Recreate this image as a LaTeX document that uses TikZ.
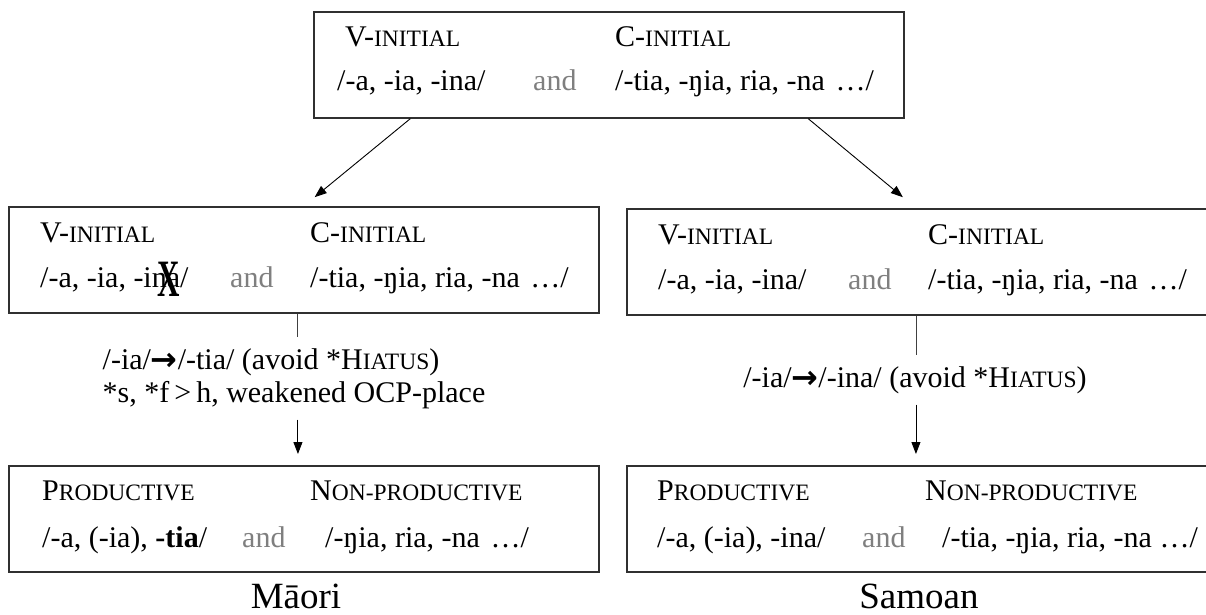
\documentclass[tikz,border=0pt]{standalone}
\usepackage{fontspec}
\setmainfont{Liberation Serif}
\newfontfamily\arrowfont{DejaVu Sans}
\usepackage{graphicx}
\usetikzlibrary{arrows.meta,calc}
\definecolor{andgray}{HTML}{7F7F7F}
\definecolor{boxline}{HTML}{303030}
\newcommand\smc[1]{{\fontsize{23.5}{24}\selectfont #1}}
\newcommand\arr{{\arrowfont\bfseries\fontsize{32}{32}\selectfont\raisebox{-1pt}{→}}}
\newcommand\crossx{\raisebox{-9pt}{\scalebox{0.62}[1.05]{\fontsize{50}{50}\selectfont\bfseries X}}}
\begin{document}
\begin{tikzpicture}[x=1pt,y=-1pt,
  box/.style={draw=boxline, line width=1.7pt, rectangle, minimum width=590pt,
    minimum height=106pt, anchor=north west, inner sep=0pt},
  txt/.style={anchor=base west, inner sep=0pt, font=\fontsize{30}{33}\selectfont},
  andtxt/.style={txt, text=andgray},
  lab/.style={font=\fontsize{30}{33}\selectfont, inner xsep=0pt, inner ysep=11pt},
  title/.style={anchor=base, inner sep=0pt, font=\fontsize{37}{40}\selectfont},
  conn/.style={draw=black, line width=0.9pt, -{Triangle[length=12pt,width=9pt]}},
  vline/.style={draw=black!75, line width=0.9pt}]
\clip (0,0) rectangle (1206,615);

% top box
\node[box] (T) at (313,11) {};
\node[txt] (Tv) at (345,47) {V-\smc{INITIAL}};
\node[txt] (Tc) at (615,47) {C-\smc{INITIAL}};
\node[txt] (Tl) at (337,91) {/-a, -ia, -ina/};
\node[andtxt] (Ta) at (533,91) {and};
\node[txt] (Tr) at (615,91) {/-tia, -ŋia, ria, -na\hspace{0.35em}…/};

% middle left box
\node[box] (ML) at (8,206) {};
\node[txt] (MLv) at (40,242) {V-\smc{INITIAL}};
\node[txt] (MLc) at (310,242) {C-\smc{INITIAL}};
\node[txt] (MLl) at (40,287) {/-a, -ia, -i\ooalign{na\cr\hidewidth\kern6pt\crossx\hidewidth\cr}/};
\node[andtxt] (MLa) at (230,287) {and};
\node[txt] (MLr) at (310,287) {/-tia, -ŋia, ria, -na\hspace{0.35em}…/};

% middle right box
\node[box] (MR) at (626,208) {};
\node[txt] (MRv) at (658,244) {V-\smc{INITIAL}};
\node[txt] (MRc) at (928,244) {C-\smc{INITIAL}};
\node[txt] (MRl) at (658,289) {/-a, -ia, -ina/};
\node[andtxt] (MRa) at (848,289) {and};
\node[txt] (MRr) at (928,289) {/-tia, -ŋia, ria, -na\hspace{0.35em}…/};

% bottom left box
\node[box] (BL) at (8,465) {};
\node[txt] (BLp) at (42,500) {P\smc{RODUCTIVE}};
\node[txt] (BLn) at (310,500) {N\smc{ON-PRODUCTIVE}};
\node[txt] (BLl) at (42,547) {/-a, (-ia), \textbf{-tia}/};
\node[andtxt] (BLa) at (242,547) {and};
\node[txt] (BLr) at (325,547) {/-ŋia, ria, -na\hspace{0.35em}…/};

% bottom right box
\node[box] (BR) at (626,465) {};
\node[txt] (BRp) at (657,500) {P\smc{RODUCTIVE}};
\node[txt] (BRn) at (925,500) {N\smc{ON-PRODUCTIVE}};
\node[txt] (BRl) at (657,547) {/-a, (-ia), -ina/};
\node[andtxt] (BRa) at (862,547) {and};
\node[txt] (BRr) at (942,547) {/-tia, -ŋia, ria, -na …/};

% process labels
\coordinate (vx1) at ($(ML.south west)!0.49!(ML.south east)$);
\coordinate (vx2) at ($(MR.south west)!0.49!(MR.south east)$);
\node[lab, align=left, anchor=north] (L1) at (294,337)
  {/-ia/\arr/-tia/ (avoid *H\smc{IATUS})\\{}*s, *f\,>\,h, weakened OCP-place};
\node[lab, anchor=base] (L2) at (915,387) {/-ia/\arr/-ina/ (avoid *H\smc{IATUS})};

% titles
\node[title] (maori) at (296,608) {Māori};
\node[title] (samoan) at (919,608) {Samoan};

% connectors
\draw[conn, shorten >=14pt] ($(T.south west)!0.1644!(T.south east)$) -- (ML.north);
\draw[conn, shorten >=17pt] ($(T.south west)!0.837!(T.south east)$) -- ($(MR.north west)!0.49!(MR.north east)$);
\draw[vline] (vx1) -- (vx1 |- L1.north);
\draw[vline, conn, shorten >=11pt] (vx1 |- L1.south) -- (vx1 |- BL.north);
\draw[vline] (vx2) -- (vx2 |- L2.north);
\draw[vline, conn, shorten >=11pt] (vx2 |- L2.south) -- (vx2 |- BR.north);
\end{tikzpicture}
\end{document}
